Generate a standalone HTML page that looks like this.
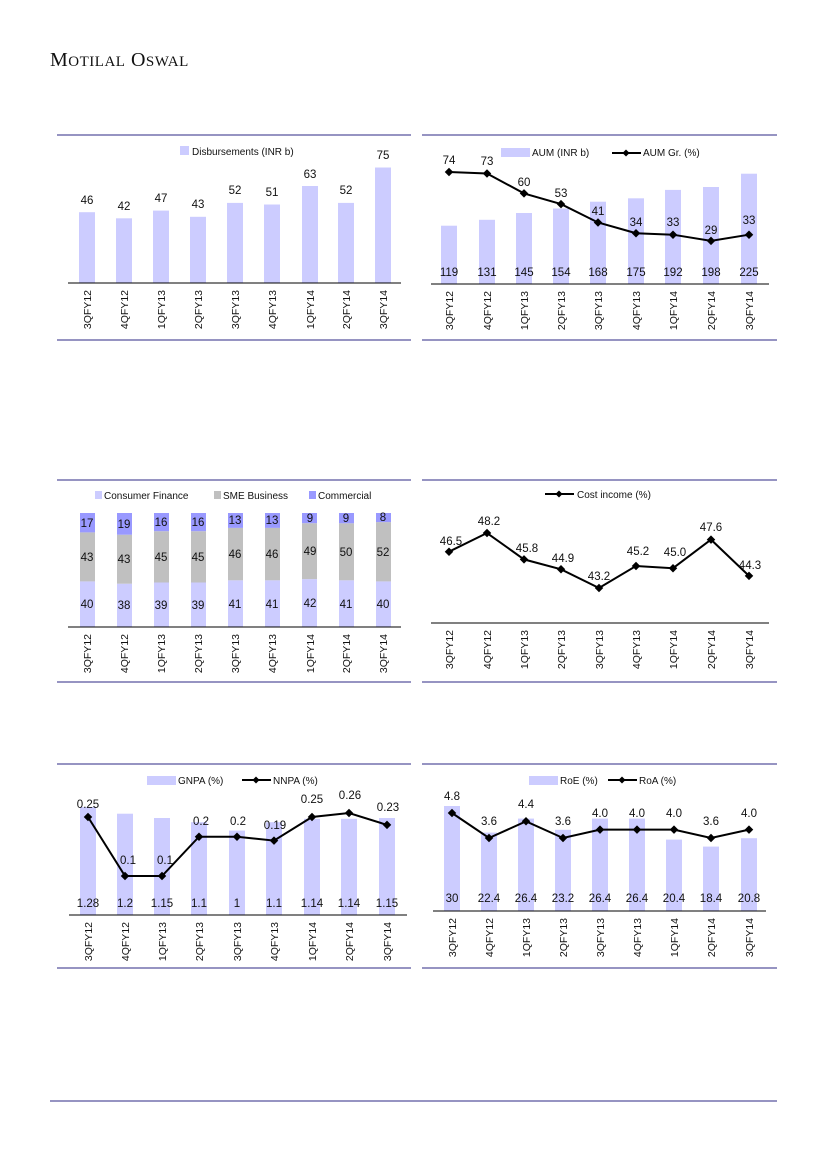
<!DOCTYPE html>
<html><head><meta charset="utf-8"><style>
html,body{margin:0;padding:0;background:#fff}
svg{display:block}
text{font-family:"Liberation Sans",sans-serif;font-size:11px;fill:#111}
.v{font-size:11.5px;text-anchor:middle}
.t{font-size:10.5px;text-anchor:end}
.lg{font-size:10px}
.b{fill:#ccccff}
.s{fill:#c0c0c0}
.m{fill:#9999ff}
.r{stroke:#7370ad;stroke-width:1.4}
.ax{stroke:#000;stroke-width:1}
.ln{fill:none;stroke:#000;stroke-width:2}
</style></head><body>
<svg width="827" height="1169" viewBox="0 0 827 1169" xmlns="http://www.w3.org/2000/svg">
<text x="50" y="66" style="font-family:'Liberation Serif',serif;font-size:20px;letter-spacing:0.5px">M<tspan style="font-size:15px">OTILAL</tspan> O<tspan style="font-size:15px">SWAL</tspan></text>

<!-- Panel 1 -->
<line class="r" x1="57" y1="135" x2="411" y2="135"/><line class="r" x1="57" y1="340" x2="411" y2="340"/>
<rect x="180" y="146" width="9" height="9" class="b"/><text class="lg" x="192" y="155">Disbursements (INR b)</text>
<g class="b">
<rect x="79" y="212.2" width="16" height="70.8"/><rect x="116" y="218.3" width="16" height="64.7"/><rect x="153" y="210.6" width="16" height="72.4"/><rect x="190" y="216.8" width="16" height="66.2"/><rect x="227" y="202.9" width="16" height="80.1"/><rect x="264" y="204.5" width="16" height="78.5"/><rect x="302" y="186" width="16" height="97"/><rect x="338" y="202.9" width="16" height="80.1"/><rect x="375" y="167.5" width="16" height="115.5"/>
</g>
<g>
<text class="v" x="87" y="204">46</text><text class="v" x="124" y="210">42</text><text class="v" x="161" y="202">47</text><text class="v" x="198" y="208">43</text><text class="v" x="235" y="194">52</text><text class="v" x="272" y="196">51</text><text class="v" x="310" y="178">63</text><text class="v" x="346" y="194">52</text><text class="v" x="383" y="159">75</text>
</g>
<line class="ax" x1="68" y1="283" x2="401" y2="283"/>
<g>
<text class="t" transform="translate(91,290) rotate(-90)">3QFY12</text><text class="t" transform="translate(128,290) rotate(-90)">4QFY12</text><text class="t" transform="translate(165,290) rotate(-90)">1QFY13</text><text class="t" transform="translate(202,290) rotate(-90)">2QFY13</text><text class="t" transform="translate(239,290) rotate(-90)">3QFY13</text><text class="t" transform="translate(276,290) rotate(-90)">4QFY13</text><text class="t" transform="translate(314,290) rotate(-90)">1QFY14</text><text class="t" transform="translate(350,290) rotate(-90)">2QFY14</text><text class="t" transform="translate(387,290) rotate(-90)">3QFY14</text>
</g>

<!-- Panel 2 -->
<line class="r" x1="422" y1="135" x2="777" y2="135"/><line class="r" x1="422" y1="340" x2="777" y2="340"/>
<rect x="501" y="148" width="29" height="9" class="b"/><text class="lg" x="532" y="156">AUM (INR b)</text>
<line x1="612" y1="153" x2="641" y2="153" stroke="#000" stroke-width="2"/><rect x="623.5" y="150.5" width="5" height="5" transform="rotate(45 626 153)"/><text class="lg" x="643" y="156">AUM Gr. (%)</text>
<g class="b">
<rect x="441" y="225.7" width="16" height="58.3"/><rect x="479" y="219.8" width="16" height="64.2"/><rect x="516" y="213" width="16" height="71"/><rect x="553" y="208.5" width="16" height="75.5"/><rect x="590" y="201.7" width="16" height="82.3"/><rect x="628" y="198.3" width="16" height="85.7"/><rect x="665" y="189.9" width="16" height="94.1"/><rect x="703" y="187" width="16" height="97"/><rect x="741" y="173.7" width="16" height="110.3"/>
</g>
<line class="ax" x1="431" y1="284" x2="769" y2="284"/>
<polyline class="ln" points="449,172 487,173.5 524,193.4 561,204.1 598,222.5 636,233.2 673,234.7 711,240.9 749,234.7"/>
<g>
<rect x="446" y="169" width="6" height="6" transform="rotate(45 449 172)"/><rect x="484" y="170.5" width="6" height="6" transform="rotate(45 487 173.5)"/><rect x="521" y="190.4" width="6" height="6" transform="rotate(45 524 193.4)"/><rect x="558" y="201.1" width="6" height="6" transform="rotate(45 561 204.1)"/><rect x="595" y="219.5" width="6" height="6" transform="rotate(45 598 222.5)"/><rect x="633" y="230.2" width="6" height="6" transform="rotate(45 636 233.2)"/><rect x="670" y="231.7" width="6" height="6" transform="rotate(45 673 234.7)"/><rect x="708" y="237.9" width="6" height="6" transform="rotate(45 711 240.9)"/><rect x="746" y="231.7" width="6" height="6" transform="rotate(45 749 234.7)"/>
</g>
<g>
<text class="v" x="449" y="164">74</text><text class="v" x="487" y="165">73</text><text class="v" x="524" y="186">60</text><text class="v" x="561" y="197">53</text><text class="v" x="598" y="215">41</text><text class="v" x="636" y="226">34</text><text class="v" x="673" y="226">33</text><text class="v" x="711" y="234">29</text><text class="v" x="749" y="224">33</text>
<text class="v" x="449" y="276">119</text><text class="v" x="487" y="276">131</text><text class="v" x="524" y="276">145</text><text class="v" x="561" y="276">154</text><text class="v" x="598" y="276">168</text><text class="v" x="636" y="276">175</text><text class="v" x="673" y="276">192</text><text class="v" x="711" y="276">198</text><text class="v" x="749" y="276">225</text>
</g>
<g>
<text class="t" transform="translate(453,291) rotate(-90)">3QFY12</text><text class="t" transform="translate(491,291) rotate(-90)">4QFY12</text><text class="t" transform="translate(528,291) rotate(-90)">1QFY13</text><text class="t" transform="translate(565,291) rotate(-90)">2QFY13</text><text class="t" transform="translate(602,291) rotate(-90)">3QFY13</text><text class="t" transform="translate(640,291) rotate(-90)">4QFY13</text><text class="t" transform="translate(677,291) rotate(-90)">1QFY14</text><text class="t" transform="translate(715,291) rotate(-90)">2QFY14</text><text class="t" transform="translate(753,291) rotate(-90)">3QFY14</text>
</g>

<!-- Panel 3 -->
<line class="r" x1="57" y1="480" x2="411" y2="480"/><line class="r" x1="57" y1="682" x2="411" y2="682"/>
<rect x="95" y="491" width="7" height="8" class="b"/><text class="lg" x="104" y="499">Consumer Finance</text>
<rect x="214" y="491" width="7" height="8" class="s"/><text class="lg" x="223" y="499">SME Business</text>
<rect x="309" y="491" width="7" height="8" class="m"/><text class="lg" x="318" y="499">Commercial</text>
<g>
<rect class="b" x="80" y="581.4" width="15" height="45.6"/><rect class="s" x="80" y="532.4" width="15" height="49"/><rect class="m" x="80" y="513" width="15" height="19.4"/>
<rect class="b" x="117" y="583.7" width="15" height="43.3"/><rect class="s" x="117" y="534.7" width="15" height="49"/><rect class="m" x="117" y="513" width="15" height="21.7"/>
<rect class="b" x="154" y="582.5" width="15" height="44.5"/><rect class="s" x="154" y="531.2" width="15" height="51.3"/><rect class="m" x="154" y="513" width="15" height="18.2"/>
<rect class="b" x="191" y="582.5" width="15" height="44.5"/><rect class="s" x="191" y="531.2" width="15" height="51.3"/><rect class="m" x="191" y="513" width="15" height="18.2"/>
<rect class="b" x="228" y="580.3" width="15" height="46.7"/><rect class="s" x="228" y="527.9" width="15" height="52.4"/><rect class="m" x="228" y="513" width="15" height="14.9"/>
<rect class="b" x="265" y="580.3" width="15" height="46.7"/><rect class="s" x="265" y="527.9" width="15" height="52.4"/><rect class="m" x="265" y="513" width="15" height="14.9"/>
<rect class="b" x="302" y="579.1" width="15" height="47.9"/><rect class="s" x="302" y="523.2" width="15" height="55.9"/><rect class="m" x="302" y="513" width="15" height="10.2"/>
<rect class="b" x="339" y="580.3" width="15" height="46.7"/><rect class="s" x="339" y="523.3" width="15" height="57"/><rect class="m" x="339" y="513" width="15" height="10.3"/>
<rect class="b" x="376" y="581.4" width="15" height="45.6"/><rect class="s" x="376" y="522.1" width="15" height="59.3"/><rect class="m" x="376" y="513" width="15" height="9.1"/>
</g>
<g>
<text class="v" x="87" y="608">40</text><text class="v" x="87" y="561">43</text><text class="v" x="87" y="527">17</text>
<text class="v" x="124" y="609">38</text><text class="v" x="124" y="563">43</text><text class="v" x="124" y="528">19</text>
<text class="v" x="161" y="609">39</text><text class="v" x="161" y="561">45</text><text class="v" x="161" y="526">16</text>
<text class="v" x="198" y="609">39</text><text class="v" x="198" y="561">45</text><text class="v" x="198" y="526">16</text>
<text class="v" x="235" y="608">41</text><text class="v" x="235" y="558">46</text><text class="v" x="235" y="524">13</text>
<text class="v" x="272" y="608">41</text><text class="v" x="272" y="558">46</text><text class="v" x="272" y="524">13</text>
<text class="v" x="310" y="607">42</text><text class="v" x="310" y="555">49</text><text class="v" x="310" y="522">9</text>
<text class="v" x="346" y="608">41</text><text class="v" x="346" y="556">50</text><text class="v" x="346" y="522">9</text>
<text class="v" x="383" y="608">40</text><text class="v" x="383" y="556">52</text><text class="v" x="383" y="521">8</text>
</g>
<line class="ax" x1="68" y1="627" x2="401" y2="627"/>
<g>
<text class="t" transform="translate(91,634) rotate(-90)">3QFY12</text><text class="t" transform="translate(128,634) rotate(-90)">4QFY12</text><text class="t" transform="translate(165,634) rotate(-90)">1QFY13</text><text class="t" transform="translate(202,634) rotate(-90)">2QFY13</text><text class="t" transform="translate(239,634) rotate(-90)">3QFY13</text><text class="t" transform="translate(276,634) rotate(-90)">4QFY13</text><text class="t" transform="translate(314,634) rotate(-90)">1QFY14</text><text class="t" transform="translate(350,634) rotate(-90)">2QFY14</text><text class="t" transform="translate(387,634) rotate(-90)">3QFY14</text>
</g>

<!-- Panel 4 -->
<line class="r" x1="422" y1="480" x2="777" y2="480"/><line class="r" x1="422" y1="682" x2="777" y2="682"/>
<line x1="545" y1="494" x2="574" y2="494" stroke="#000" stroke-width="2"/><rect x="556.5" y="491.5" width="5" height="5" transform="rotate(45 559 494)"/><text class="lg" x="577" y="498">Cost income (%)</text>
<line class="ax" x1="431" y1="623" x2="769" y2="623"/>
<polyline class="ln" points="449,551.7 487,533 524,559.4 561,569.3 599,588 636,566 673,568.2 711,539.6 749,575.9"/>
<g>
<rect x="446" y="548.7" width="6" height="6" transform="rotate(45 449 551.7)"/><rect x="484" y="530" width="6" height="6" transform="rotate(45 487 533)"/><rect x="521" y="556.4" width="6" height="6" transform="rotate(45 524 559.4)"/><rect x="558" y="566.3" width="6" height="6" transform="rotate(45 561 569.3)"/><rect x="596" y="585" width="6" height="6" transform="rotate(45 599 588)"/><rect x="633" y="563" width="6" height="6" transform="rotate(45 636 566)"/><rect x="670" y="565.2" width="6" height="6" transform="rotate(45 673 568.2)"/><rect x="708" y="536.6" width="6" height="6" transform="rotate(45 711 539.6)"/><rect x="746" y="572.9" width="6" height="6" transform="rotate(45 749 575.9)"/>
</g>
<g>
<text class="v" x="451" y="545">46.5</text><text class="v" x="489" y="525">48.2</text><text class="v" x="527" y="552">45.8</text><text class="v" x="563" y="562">44.9</text><text class="v" x="599" y="580">43.2</text><text class="v" x="638" y="555">45.2</text><text class="v" x="675" y="556">45.0</text><text class="v" x="711" y="531">47.6</text><text class="v" x="750" y="569">44.3</text>
</g>
<g>
<text class="t" transform="translate(453,630) rotate(-90)">3QFY12</text><text class="t" transform="translate(491,630) rotate(-90)">4QFY12</text><text class="t" transform="translate(528,630) rotate(-90)">1QFY13</text><text class="t" transform="translate(565,630) rotate(-90)">2QFY13</text><text class="t" transform="translate(603,630) rotate(-90)">3QFY13</text><text class="t" transform="translate(640,630) rotate(-90)">4QFY13</text><text class="t" transform="translate(677,630) rotate(-90)">1QFY14</text><text class="t" transform="translate(715,630) rotate(-90)">2QFY14</text><text class="t" transform="translate(753,630) rotate(-90)">3QFY14</text>
</g>

<!-- Panel 5 -->
<line class="r" x1="57" y1="764" x2="411" y2="764"/><line class="r" x1="57" y1="968" x2="411" y2="968"/>
<rect x="147" y="776" width="29" height="9" class="b"/><text class="lg" x="178" y="784">GNPA (%)</text>
<line x1="242" y1="780" x2="271" y2="780" stroke="#000" stroke-width="2"/><rect x="253.5" y="777.5" width="5" height="5" transform="rotate(45 256 780)"/><text class="lg" x="273" y="784">NNPA (%)</text>
<g class="b">
<rect x="80" y="807" width="16" height="108"/><rect x="117" y="813.7" width="16" height="101.3"/><rect x="154" y="818" width="16" height="97"/><rect x="191" y="822.2" width="16" height="92.8"/><rect x="229" y="830.6" width="16" height="84.4"/><rect x="266" y="822.2" width="16" height="92.8"/><rect x="304" y="818.8" width="16" height="96.2"/><rect x="341" y="818.8" width="16" height="96.2"/><rect x="379" y="818" width="16" height="97"/>
</g>
<line class="ax" x1="69" y1="915" x2="407" y2="915"/>
<polyline class="ln" points="88,817 125,876 162,876 199,836.7 237,836.7 274,840.6 312,817 349,813 387,824.9"/>
<g>
<rect x="85" y="814" width="6" height="6" transform="rotate(45 88 817)"/><rect x="122" y="873" width="6" height="6" transform="rotate(45 125 876)"/><rect x="159" y="873" width="6" height="6" transform="rotate(45 162 876)"/><rect x="196" y="833.7" width="6" height="6" transform="rotate(45 199 836.7)"/><rect x="234" y="833.7" width="6" height="6" transform="rotate(45 237 836.7)"/><rect x="271" y="837.6" width="6" height="6" transform="rotate(45 274 840.6)"/><rect x="309" y="814" width="6" height="6" transform="rotate(45 312 817)"/><rect x="346" y="810" width="6" height="6" transform="rotate(45 349 813)"/><rect x="384" y="821.9" width="6" height="6" transform="rotate(45 387 824.9)"/>
</g>
<g>
<text class="v" x="88" y="808">0.25</text><text class="v" x="128" y="864">0.1</text><text class="v" x="165" y="864">0.1</text><text class="v" x="201" y="825">0.2</text><text class="v" x="238" y="825">0.2</text><text class="v" x="275" y="829">0.19</text><text class="v" x="312" y="803">0.25</text><text class="v" x="350" y="799">0.26</text><text class="v" x="388" y="811">0.23</text>
<text class="v" x="88" y="907">1.28</text><text class="v" x="125" y="907">1.2</text><text class="v" x="162" y="907">1.15</text><text class="v" x="199" y="907">1.1</text><text class="v" x="237" y="907">1</text><text class="v" x="274" y="907">1.1</text><text class="v" x="312" y="907">1.14</text><text class="v" x="349" y="907">1.14</text><text class="v" x="387" y="907">1.15</text>
</g>
<g>
<text class="t" transform="translate(92,922) rotate(-90)">3QFY12</text><text class="t" transform="translate(129,922) rotate(-90)">4QFY12</text><text class="t" transform="translate(166,922) rotate(-90)">1QFY13</text><text class="t" transform="translate(203,922) rotate(-90)">2QFY13</text><text class="t" transform="translate(241,922) rotate(-90)">3QFY13</text><text class="t" transform="translate(278,922) rotate(-90)">4QFY13</text><text class="t" transform="translate(316,922) rotate(-90)">1QFY14</text><text class="t" transform="translate(353,922) rotate(-90)">2QFY14</text><text class="t" transform="translate(391,922) rotate(-90)">3QFY14</text>
</g>

<!-- Panel 6 -->
<line class="r" x1="422" y1="764" x2="777" y2="764"/><line class="r" x1="422" y1="968" x2="777" y2="968"/>
<rect x="529" y="776" width="29" height="9" class="b"/><text class="lg" x="560" y="784">RoE (%)</text>
<line x1="608" y1="780" x2="637" y2="780" stroke="#000" stroke-width="2"/><rect x="619.5" y="777.5" width="5" height="5" transform="rotate(45 622 780)"/><text class="lg" x="639" y="784">RoA (%)</text>
<g class="b">
<rect x="444" y="806" width="16" height="105"/><rect x="481" y="832.6" width="16" height="78.4"/><rect x="518" y="818.6" width="16" height="92.4"/><rect x="555" y="829.8" width="16" height="81.2"/><rect x="592" y="818.6" width="16" height="92.4"/><rect x="629" y="818.6" width="16" height="92.4"/><rect x="666" y="839.6" width="16" height="71.4"/><rect x="703" y="846.6" width="16" height="64.4"/><rect x="741" y="838.2" width="16" height="72.8"/>
</g>
<line class="ax" x1="433" y1="911" x2="766" y2="911"/>
<polyline class="ln" points="452,813 489,838 526,821.3 563,838 600,829.6 637,829.6 674,829.6 711,838 749,829.6"/>
<g>
<rect x="449" y="810" width="6" height="6" transform="rotate(45 452 813)"/><rect x="486" y="835" width="6" height="6" transform="rotate(45 489 838)"/><rect x="523" y="818.3" width="6" height="6" transform="rotate(45 526 821.3)"/><rect x="560" y="835" width="6" height="6" transform="rotate(45 563 838)"/><rect x="597" y="826.6" width="6" height="6" transform="rotate(45 600 829.6)"/><rect x="634" y="826.6" width="6" height="6" transform="rotate(45 637 829.6)"/><rect x="671" y="826.6" width="6" height="6" transform="rotate(45 674 829.6)"/><rect x="708" y="835" width="6" height="6" transform="rotate(45 711 838)"/><rect x="746" y="826.6" width="6" height="6" transform="rotate(45 749 829.6)"/>
</g>
<g>
<text class="v" x="452" y="800">4.8</text><text class="v" x="489" y="825">3.6</text><text class="v" x="526" y="808">4.4</text><text class="v" x="563" y="825">3.6</text><text class="v" x="600" y="817">4.0</text><text class="v" x="637" y="817">4.0</text><text class="v" x="674" y="817">4.0</text><text class="v" x="711" y="825">3.6</text><text class="v" x="749" y="817">4.0</text>
<text class="v" x="452" y="902">30</text><text class="v" x="489" y="902">22.4</text><text class="v" x="526" y="902">26.4</text><text class="v" x="563" y="902">23.2</text><text class="v" x="600" y="902">26.4</text><text class="v" x="637" y="902">26.4</text><text class="v" x="674" y="902">20.4</text><text class="v" x="711" y="902">18.4</text><text class="v" x="749" y="902">20.8</text>
</g>
<g>
<text class="t" transform="translate(456,918) rotate(-90)">3QFY12</text><text class="t" transform="translate(493,918) rotate(-90)">4QFY12</text><text class="t" transform="translate(530,918) rotate(-90)">1QFY13</text><text class="t" transform="translate(567,918) rotate(-90)">2QFY13</text><text class="t" transform="translate(604,918) rotate(-90)">3QFY13</text><text class="t" transform="translate(641,918) rotate(-90)">4QFY13</text><text class="t" transform="translate(678,918) rotate(-90)">1QFY14</text><text class="t" transform="translate(715,918) rotate(-90)">2QFY14</text><text class="t" transform="translate(753,918) rotate(-90)">3QFY14</text>
</g>

<line class="r" x1="50" y1="1101" x2="777" y2="1101"/>
</svg>
</body></html>
